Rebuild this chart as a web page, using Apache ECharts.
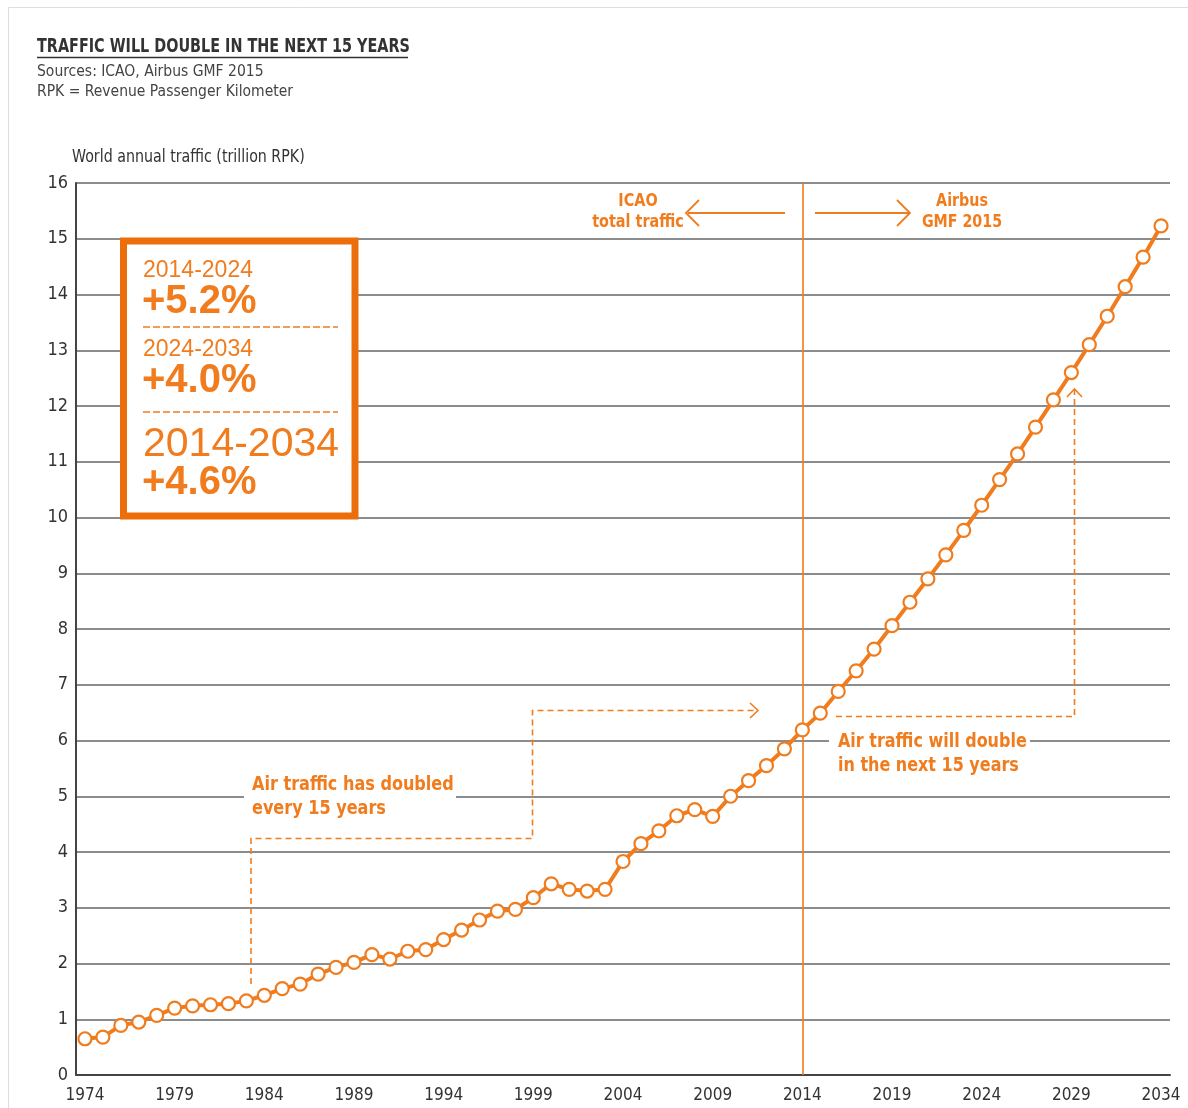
<!DOCTYPE html>
<html>
<head>
<meta charset="utf-8">
<script src="https://cdn.jsdelivr.net/npm/echarts@6/dist/echarts.min.js"></script>
<style>
html,body{margin:0;padding:0;background:#fff;}
#chart{width:1188px;height:1108px;}
</style>
</head>
<body>
<div id="chart"></div>
<script>
// ---- data ----
var years = [];
for (var y = 1974; y <= 2034; y++) years.push(String(y));
var traffic = [
  0.65, 0.68, 0.89, 0.95, 1.07, 1.20, 1.24, 1.26, 1.28, 1.33,
  1.43, 1.55, 1.63, 1.81, 1.93, 2.02, 2.16, 2.08, 2.22, 2.25,
  2.43, 2.60, 2.78, 2.94, 2.97, 3.18, 3.43, 3.33, 3.30, 3.33,
  3.83, 4.15, 4.38, 4.65, 4.76, 4.64, 5.00, 5.28, 5.55, 5.85,
  6.19, 6.49, 6.88, 7.25, 7.64, 8.06, 8.48, 8.90, 9.33, 9.77,
  10.22, 10.68, 11.14, 11.62, 12.11, 12.60, 13.10, 13.61, 14.14, 14.67,
  15.23
];
var yTicks = [0,1,2,3,4,5,6,7,8,9,10,11,12,13,14,15,16];
var splitYear = '2014';

var ORANGE = '#F07C1E';
var BOXOR = '#EC6E0A';
var DARK = '#333333';
var NARROW = '"Liberation Sans Narrow","DejaVu Sans Condensed","Roboto Condensed",Roboto,sans-serif';
var ARIAL = '"Liberation Sans",Arial,sans-serif';

var chart = echarts.init(document.getElementById('chart'));

function dashedPath(points) {
  return {
    type: 'polyline', silent: true, z: 20,
    shape: { points: points },
    style: { stroke: ORANGE, lineWidth: 1.6, lineDash: [6, 4], fill: null }
  };
}
function solidLine(pts, w) {
  return { type: 'polyline', silent: true, z: 20, shape: { points: pts },
    style: { stroke: ORANGE, lineWidth: w || 1.8, fill: null } };
}
function txt(x, y, text, font, color, align, sx) {
  return { type: 'text', x: x, y: y, scaleX: sx || 1, silent: true, z: 30,
    style: { text: text, font: font, fill: color, align: align || 'left', verticalAlign: 'middle' } };
}

var graphics = [
  // faint frame
  { type: 'polyline', silent: true, z: 1, shape: { points: [[8.5, 1108], [8.5, 7.5], [1188, 7.5]] },
    style: { stroke: '#dddddd', lineWidth: 1, fill: null } },
  // title
  txt(37, 47, 'TRAFFIC WILL DOUBLE IN THE NEXT 15 YEARS', 'bold 20px ' + NARROW, DARK, 'left', 0.80),
  { type: 'line', silent: true, shape: { x1: 37, y1: 57.5, x2: 408, y2: 57.5 }, style: { stroke: DARK, lineWidth: 1.5 } },
  txt(37, 72, 'Sources: ICAO, Airbus GMF 2015', '15.5px ' + NARROW, '#444'),
  txt(37, 92, 'RPK = Revenue Passenger Kilometer', '15.5px ' + NARROW, '#444'),
  txt(72, 158, 'World annual traffic (trillion RPK)', '17px ' + NARROW, DARK, 'left', 0.93),

  // box
  { type: 'rect', silent: true, z: 25, shape: { x: 123.5, y: 241, width: 231.5, height: 275 },
    style: { fill: '#fff', stroke: BOXOR, lineWidth: 7 } },
  txt(143, 271, '2014-2024', '23px ' + ARIAL, ORANGE),
  txt(142, 302, '+5.2%', 'bold 40px ' + ARIAL, ORANGE),
  { type: 'line', silent: true, z: 30, shape: { x1: 143, y1: 327, x2: 338, y2: 327 },
    style: { stroke: ORANGE, lineWidth: 1.3, lineDash: [7, 3] } },
  txt(143, 350, '2024-2034', '23px ' + ARIAL, ORANGE),
  txt(142, 381, '+4.0%', 'bold 40px ' + ARIAL, ORANGE),
  { type: 'line', silent: true, z: 30, shape: { x1: 143, y1: 412, x2: 338, y2: 412 },
    style: { stroke: ORANGE, lineWidth: 1.3, lineDash: [7, 3] } },
  txt(143, 445, '2014-2034', '41px ' + ARIAL, ORANGE),
  txt(142, 483, '+4.6%', 'bold 40px ' + ARIAL, ORANGE),

  // ICAO / Airbus labels and arrows
  txt(638, 201, 'ICAO', 'bold 18px ' + NARROW, ORANGE, 'center', 0.89),
  txt(638, 222, 'total traffic', 'bold 18px ' + NARROW, ORANGE, 'center', 0.89),
  solidLine([[785, 213], [688, 213]]),
  solidLine([[699, 200], [686, 213], [699, 226]]),
  txt(962, 201, 'Airbus', 'bold 18px ' + NARROW, ORANGE, 'center', 0.88),
  txt(962, 222, 'GMF 2015', 'bold 18px ' + NARROW, ORANGE, 'center', 0.88),
  solidLine([[815, 213], [910, 213]]),
  solidLine([[897, 200], [910, 213], [897, 226]]),

  // "has doubled" annotation
  { type: 'rect', silent: true, z: 15, shape: { x: 244, y: 770, width: 212, height: 50 }, style: { fill: '#fff' } },
  txt(252, 785, 'Air traffic has doubled', 'bold 19px ' + NARROW, ORANGE, 'left', 0.94),
  txt(252, 809, 'every 15 years', 'bold 19px ' + NARROW, ORANGE, 'left', 0.94),
  dashedPath([[251, 984], [251, 838.5], [532.5, 838.5], [532.5, 710.5], [757, 710.5]]),
  solidLine([[750, 703], [758, 710.5], [750, 718]], 1.6),

  // "will double" annotation
  { type: 'rect', silent: true, z: 15, shape: { x: 829, y: 728, width: 201, height: 50 }, style: { fill: '#fff' } },
  txt(838, 742, 'Air traffic will double', 'bold 19px ' + NARROW, ORANGE, 'left', 0.935),
  txt(838, 766, 'in the next 15 years', 'bold 19px ' + NARROW, ORANGE, 'left', 0.935),
  dashedPath([[836, 716.5], [1074.5, 716.5], [1074.5, 390]]),
  solidLine([[1067, 397], [1074.5, 389], [1082, 397]], 1.6)
];

var option = {
  backgroundColor: '#ffffff',
  animation: false,
  grid: { left: 76, right: 18, top: 183, bottom: 33, containLabel: false },
  xAxis: {
    type: 'category',
    data: years,
    boundaryGap: true,
    axisLine: { lineStyle: { color: '#444', width: 2 } },
    axisTick: { show: false },
    axisLabel: { interval: 4, color: DARK, fontSize: 17, fontFamily: NARROW, margin: 12 },
    splitLine: { show: false }
  },
  yAxis: {
    type: 'value',
    min: yTicks[0], max: yTicks[yTicks.length - 1], interval: 1,
    axisLine: { show: true, lineStyle: { color: '#444', width: 2 } },
    axisTick: { show: false },
    axisLabel: { color: DARK, fontSize: 18, fontFamily: NARROW, margin: 8 },
    splitLine: { lineStyle: { color: '#666', width: 1.6 } }
  },
  series: [{
    type: 'line',
    data: traffic,
    z: 10,
    symbol: 'circle',
    symbolSize: 13,
    showAllSymbol: true,
    itemStyle: { color: '#fff', borderColor: ORANGE, borderWidth: 2.2 },
    lineStyle: { color: ORANGE, width: 4 },
    markLine: {
      silent: true,
      symbol: 'none',
      label: { show: false },
      lineStyle: { color: ORANGE, width: 1.6, type: 'solid' },
      data: [{ xAxis: splitYear }],
      z: 5
    }
  }],
  graphic: graphics
};
chart.setOption(option);
</script>
</body>
</html>
